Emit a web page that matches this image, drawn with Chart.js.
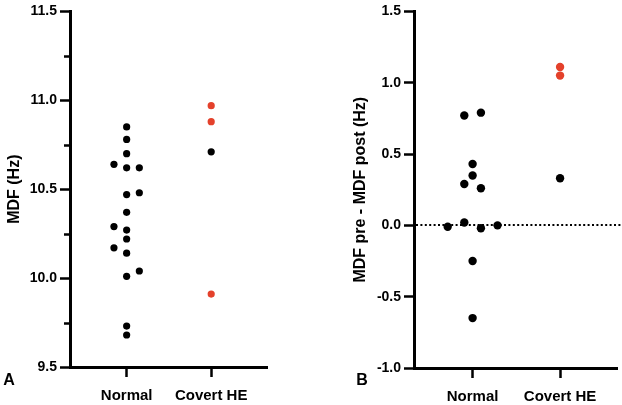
<!DOCTYPE html>
<html>
<head>
<meta charset="utf-8">
<script src="https://cdn.jsdelivr.net/npm/chart.js@4.4.0/dist/chart.umd.min.js"></script>
<style>
  body { margin: 0; background: #fff; }
  canvas { position: absolute; top: 0; }
</style>
</head>
<body>
<canvas id="panelA" width="311" height="405" style="left:0"></canvas>
<canvas id="panelB" width="311" height="405" style="left:311px"></canvas>
<script>
const groups = ['Normal', 'Covert HE']

// Panel A - MDF (Hz)
const normalA = [10.85, 10.78, 10.70, 10.64, 10.62, 10.62, 10.48, 10.47, 10.37, 10.29, 10.27, 10.22, 10.17, 10.14, 10.04, 10.01, 9.73, 9.68]
const covertA = [10.97, 10.88, 10.71, 9.91]
const ticksA = [9.5, 10.0, 10.5, 11.0, 11.5]
const minorTicksA = [9.75, 10.25, 10.75, 11.25]

// Panel B - MDF pre - MDF post (Hz)
const normalB = [0.79, 0.77, 0.43, 0.35, 0.29, 0.26, 0.02, -0.01, 0.00, -0.02, -0.25, -0.65]
const covertB = [1.11, 1.05, 0.33]
const ticksB = [-1.0, -0.5, 0.0, 0.5, 1.0, 1.5]

// scatter columns (GraphPad style spread), red = highlighted subjects
const normalACol = [0, 0, 0, -1, 0, 1, 1, 0, 0, -1, 0, 0, -1, 0, 1, 0, 0, 0]
const normalBCol = [1, -1, 0, 0, -1, 1, -1, -3, 3, 1, 0, 0]
const covertARed = [true, true, false, true]
const covertBRed = [true, true, false]

const FONT = "'Liberation Sans', Arial, sans-serif"
const RED = '#e4412b'

const toPoints = (vals, x, cols, spread) =>
    vals.map((v, i) => ({ x: x + (cols ? cols[i] * spread : 0), y: v }))

const panelPlugin = {
    id: 'panelExtras',
    beforeDatasetsDraw(chart, args, opts) {
        const ctx = chart.ctx
        const y = chart.scales.y
        const area = chart.chartArea
        ctx.save()
        ctx.strokeStyle = '#000'
        if (opts.minor) {
            ctx.lineWidth = 2.5
            opts.minor.forEach(v => {
                const py = Math.round(y.getPixelForValue(v)) + 0.5
                ctx.beginPath()
                ctx.moveTo(area.left - 6, py)
                ctx.lineTo(area.left, py)
                ctx.stroke()
            })
        }
        if (opts.zeroLine) {
            const py = Math.round(y.getPixelForValue(0))
            ctx.lineWidth = 2
            ctx.setLineDash([2, 2.4])
            ctx.beginPath()
            ctx.moveTo(area.left + 2, py)
            ctx.lineTo(chart.width - 1, py)
            ctx.stroke()
        }
        ctx.restore()
    },
    afterDraw(chart, args, opts) {
        const ctx = chart.ctx
        ctx.save()
        ctx.fillStyle = '#000'
        ctx.font = 'bold 16px ' + FONT
        ctx.textAlign = 'center'
        ctx.textBaseline = 'middle'
        ctx.fillText(opts.letter, opts.letterX, 381)
        ctx.restore()
    }
}

function makePanel(canvas, cfg) {
    return new Chart(canvas, {
        type: 'scatter',
        data: {
            datasets: [{
                data: toPoints(cfg.normal, 0, cfg.normalCol, cfg.spread),
                backgroundColor: '#000',
                pointRadius: cfg.radius,
                pointBorderWidth: 0
            }, {
                data: toPoints(cfg.covert, 1),
                backgroundColor: cfg.covertRed.map(r => r ? RED : '#000'),
                pointRadius: cfg.radius,
                pointBorderWidth: 0
            }]
        },
        options: {
            responsive: false,
            animation: false,
            layout: { padding: { top: cfg.padTop, right: cfg.padRight, left: 0, bottom: 0 } },
            plugins: {
                legend: { display: false },
                tooltip: { enabled: false },
                panelExtras: { minor: cfg.minor, zeroLine: cfg.zeroLine, letter: cfg.letter, letterX: cfg.letterX }
            },
            scales: {
                x: {
                    type: 'linear',
                    min: -0.67,
                    max: 1.66,
                    afterBuildTicks: s => { s.ticks = [{ value: 0 }, { value: 1 }] },
                    afterFit: s => { s.height = cfg.xHeight },
                    border: { color: '#000', width: 3 },
                    grid: { drawOnChartArea: false, tickLength: 10, tickColor: '#000', tickWidth: 2.5 },
                    ticks: {
                        callback: v => groups[v],
                        color: '#000',
                        padding: 10,
                        maxRotation: 0,
                        font: { family: FONT, size: 15, weight: 'bold' }
                    }
                },
                y: {
                    min: cfg.ticks[0],
                    max: cfg.ticks[cfg.ticks.length - 1],
                    afterBuildTicks: s => { s.ticks = cfg.ticks.map(v => ({ value: v })) },
                    afterFit: s => { s.width = cfg.yWidth },
                    border: { color: '#000', width: 3 },
                    grid: { drawOnChartArea: false, tickLength: 10, tickColor: '#000', tickWidth: 2.5 },
                    ticks: {
                        callback: v => v.toFixed(1),
                        color: '#000',
                        padding: 3,
                        font: { family: FONT, size: 14, weight: 'bold' }
                    },
                    title: {
                        display: true,
                        text: cfg.title,
                        color: '#000',
                        padding: { top: cfg.titlePad, bottom: 0 },
                        font: { family: FONT, size: 16, weight: 'bold' }
                    }
                }
            }
        },
        plugins: [panelPlugin]
    })
}

makePanel(document.getElementById('panelA'), {
    normal: normalA, covert: covertA, normalCol: normalACol, spread: 0.15,
    covertRed: covertARed, ticks: ticksA, minor: minorTicksA, zeroLine: false,
    title: 'MDF (Hz)', titlePad: 5, yWidth: 70, xHeight: 38, padTop: 6, padRight: 44,
    radius: 3.6, letter: 'A', letterX: 9
})

makePanel(document.getElementById('panelB'), {
    normal: normalB, covert: covertB, normalCol: normalBCol, spread: 0.095,
    covertRed: covertBRed, ticks: ticksB, minor: null, zeroLine: true,
    title: 'MDF pre - MDF post (Hz)', titlePad: 40, yWidth: 103, xHeight: 37, padTop: 7, padRight: 4,
    radius: 4.2, letter: 'B', letterX: 51
})
</script>
</body>
</html>
